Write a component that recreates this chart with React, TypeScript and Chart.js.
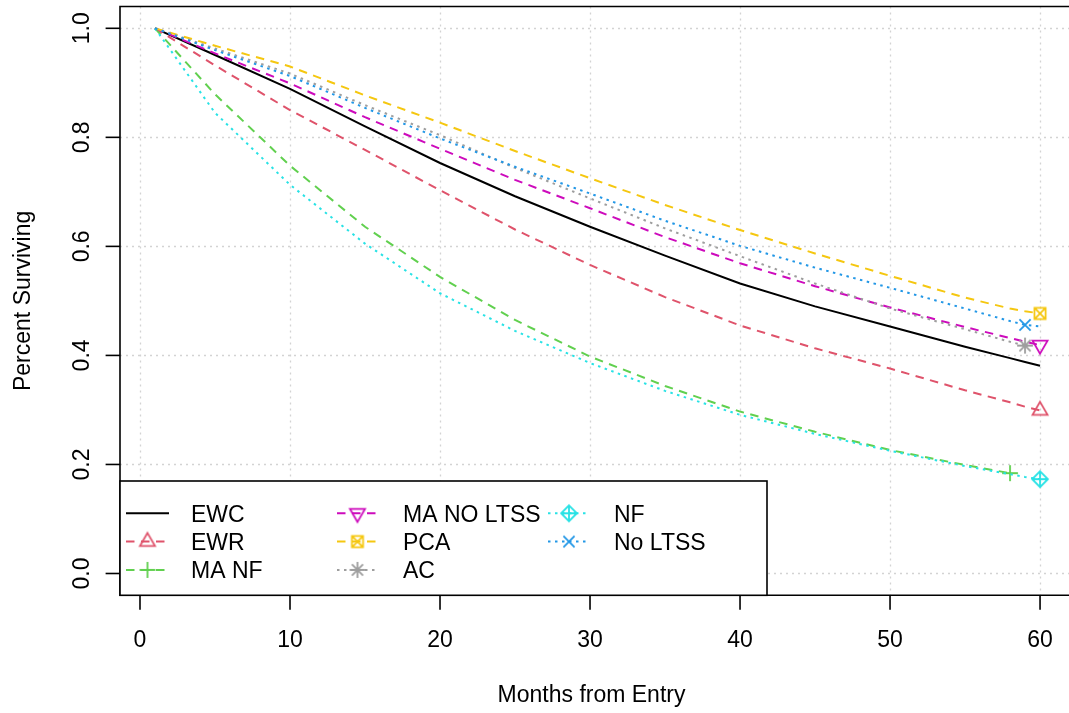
import { useEffect, useRef } from 'react';
import { Chart, registerables } from 'chart.js';

Chart.register(...registerables);

// Survival estimates by month since entry
const months = [1, 5, 10, 15, 20, 25, 30, 35, 40, 45, 50, 55, 58, 59, 60];

const ewc = [1.0, 0.951, 0.889, 0.82, 0.753, 0.692, 0.636, 0.583, 0.532, 0.49, 0.453, 0.416, 0.395, 0.388, 0.381];
const ewr = [1.0, 0.932, 0.85, 0.777, 0.703, 0.631, 0.566, 0.507, 0.455, 0.413, 0.376, 0.336, 0.314, 0.306, 0.299];
const maNf = [1.0, 0.879, 0.748, 0.636, 0.544, 0.465, 0.398, 0.344, 0.297, 0.26, 0.2265, 0.199, 0.184, null, null];
const maNoLtss = [1.0, 0.954, 0.899, 0.837, 0.779, 0.722, 0.67, 0.617, 0.569, 0.527, 0.488, 0.452, 0.432, 0.425, 0.419];
const pca = [1.0, 0.968, 0.93, 0.877, 0.827, 0.775, 0.725, 0.676, 0.63, 0.587, 0.546, 0.506, 0.486, 0.481, 0.477];
const ac = [1.0, 0.963, 0.917, 0.859, 0.804, 0.744, 0.688, 0.633, 0.582, 0.532, 0.486, 0.448, 0.425, 0.418, null];
const nf = [1.0, 0.845, 0.713, 0.605, 0.514, 0.445, 0.386, 0.335, 0.291, 0.256, 0.225, 0.197, 0.182, 0.177, 0.173];
const noLtss = [1.0, 0.96, 0.9125, 0.854, 0.798, 0.746, 0.697, 0.647, 0.601, 0.561, 0.524, 0.486, 0.463, 0.456, 0.453];

const seriesNames = ['EWC', 'EWR', 'MA NF', 'MA NO LTSS', 'PCA', 'AC', 'NF', 'No LTSS'];
const seriesValues = [ewc, ewr, maNf, maNoLtss, pca, ac, nf, noLtss];
// month at which each curve carries its end symbol (null: no symbol)
const markerMonths: (number | null)[] = [null, 60, 58, 60, 60, 59, 60, 59];

const xTicks = [0, 10, 20, 30, 40, 50, 60];
const yTicks = [0, 0.2, 0.4, 0.6, 0.8, 1.0];
const yTickLabels = ['0.0', '0.2', '0.4', '0.6', '0.8', '1.0'];

const xTitle = 'Months from Entry';
const yTitle = 'Percent Surviving';

// styling
const colors = ['#000000', '#DF536B', '#61D04F', '#CD0BBC', '#F5C710', '#9E9E9E', '#28E2E5', '#2297E6'];
const DASHED = [8.5, 6.5];
const DOTTED = [2.5, 4.5];
const dashes = [[], DASHED, DASHED, DASHED, DASHED, DOTTED, DOTTED, DOTTED];
const symbols = ['none', 'triUp', 'plus', 'triDown', 'boxX', 'aster', 'diamondPlus', 'cross'];

const FONT = '23px "Liberation Sans", Arial, Helvetica, sans-serif';
const LINE_W = 2;

function makeSymbol(kind: string, color: string): HTMLCanvasElement {
  const c = document.createElement('canvas');
  c.width = 24;
  c.height = 24;
  const g = c.getContext('2d')!;
  g.translate(12, 12);
  g.strokeStyle = color;
  g.lineWidth = 1.8;
  const s = 5.57;
  const r2 = s * Math.SQRT2;
  g.beginPath();
  if (kind === 'triUp' || kind === 'triDown') {
    const r = 1.5551 * s;
    const xc = 1.3468 * s;
    const yc = 0.7776 * s;
    const f = kind === 'triUp' ? 1 : -1;
    g.moveTo(0, -r * f);
    g.lineTo(xc, yc * f);
    g.lineTo(-xc, yc * f);
    g.closePath();
  } else if (kind === 'plus') {
    g.moveTo(-r2, 0); g.lineTo(r2, 0);
    g.moveTo(0, -r2); g.lineTo(0, r2);
  } else if (kind === 'cross') {
    g.moveTo(-s, -s); g.lineTo(s, s);
    g.moveTo(-s, s); g.lineTo(s, -s);
  } else if (kind === 'boxX') {
    g.rect(-s, -s, 2 * s, 2 * s);
    g.moveTo(-s, -s); g.lineTo(s, s);
    g.moveTo(-s, s); g.lineTo(s, -s);
  } else if (kind === 'aster') {
    g.moveTo(-s, -s); g.lineTo(s, s);
    g.moveTo(-s, s); g.lineTo(s, -s);
    g.moveTo(-r2, 0); g.lineTo(r2, 0);
    g.moveTo(0, -r2); g.lineTo(0, r2);
  } else if (kind === 'diamondPlus') {
    g.moveTo(0, -r2); g.lineTo(r2, 0); g.lineTo(0, r2); g.lineTo(-r2, 0); g.closePath();
    g.moveTo(-r2, 0); g.lineTo(r2, 0);
    g.moveTo(0, -r2); g.lineTo(0, r2);
  }
  g.stroke();
  return c;
}

const LEGEND_BOX = { left: 120, top: 481, right: 767 };
const legendCols = [
  { x0: 126, x1: 169, tx: 191 },
  { x0: 337, x1: 378, tx: 403 },
  { x0: 548, x1: 590, tx: 614 },
];
const legendRows = [513.3, 541.6, 569.9];

export default function App() {
  const canvasRef = useRef<HTMLCanvasElement | null>(null);

  useEffect(() => {
    const canvas = canvasRef.current;
    if (!canvas) return;

    const symbolImgs = symbols.map((k, i) => (k === 'none' ? null : makeSymbol(k, colors[i])));

    const datasets = seriesNames.map((name, i) => {
      const vals = seriesValues[i];
      const mIdx = markerMonths[i] === null ? -1 : months.indexOf(markerMonths[i] as number);
      const img = symbolImgs[i];
      return {
        label: name,
        data: months.map((m, j) => ({ x: m, y: vals[j] })).filter((p) => p.y !== null),
        borderColor: colors[i],
        backgroundColor: colors[i],
        borderWidth: LINE_W,
        borderDash: dashes[i],
        borderCapStyle: 'butt' as const,
        tension: 0,
        fill: false,
        order: seriesNames.length - i,
        pointRadius: (ctx: any) => (img && ctx.dataIndex === mIdx ? 9 : 0),
        pointHoverRadius: 0,
        pointStyle: (ctx: any) => (img && ctx.dataIndex === mIdx ? img : 'circle'),
      };
    });

    const rPlot = {
      id: 'rPlot',
      beforeDatasetsDraw(chart: any) {
        const { ctx, chartArea: a, scales } = chart;
        ctx.save();
        ctx.strokeStyle = '#D3D3D3';
        ctx.lineWidth = 1.3;
        ctx.setLineDash([2, 4]);
        for (const t of xTicks) {
          const x = Math.round(scales.x.getPixelForValue(t)) + 0.5;
          ctx.beginPath();
          ctx.moveTo(x, a.top);
          ctx.lineTo(x, a.bottom);
          ctx.stroke();
        }
        for (const t of yTicks) {
          const y = Math.round(scales.y.getPixelForValue(t)) + 0.5;
          ctx.beginPath();
          ctx.moveTo(a.left, y);
          ctx.lineTo(a.right, y);
          ctx.stroke();
        }
        ctx.restore();
      },
      afterDatasetsDraw(chart: any) {
        const { ctx, chartArea: a, scales } = chart;
        ctx.save();
        ctx.setLineDash([]);
        ctx.strokeStyle = '#000';
        ctx.fillStyle = '#000';
        ctx.lineWidth = 1.6;

        // plot frame: left, top and bottom sides (the right side lies past the canvas edge)
        ctx.beginPath();
        ctx.moveTo(a.right + 2, a.top);
        ctx.lineTo(a.left, a.top);
        ctx.lineTo(a.left, a.bottom);
        ctx.lineTo(a.right + 2, a.bottom);
        ctx.stroke();

        // x axis ticks and labels
        ctx.font = FONT;
        ctx.textAlign = 'center';
        ctx.textBaseline = 'alphabetic';
        for (const t of xTicks) {
          const x = scales.x.getPixelForValue(t);
          ctx.beginPath();
          ctx.moveTo(x, a.bottom);
          ctx.lineTo(x, a.bottom + 14.4);
          ctx.stroke();
          ctx.fillText(String(t), x, 647);
        }
        ctx.fillText(xTitle, scales.x.getPixelForValue(30.1), 702);

        // y axis ticks and rotated labels
        yTicks.forEach((t, i) => {
          const y = scales.y.getPixelForValue(t);
          ctx.beginPath();
          ctx.moveTo(a.left, y);
          ctx.lineTo(a.left - 14.4, y);
          ctx.stroke();
          ctx.save();
          ctx.translate(88.5, y);
          ctx.rotate(-Math.PI / 2);
          ctx.fillText(yTickLabels[i], 0, 0);
          ctx.restore();
        });
        ctx.save();
        ctx.translate(30, (a.top + a.bottom) / 2);
        ctx.rotate(-Math.PI / 2);
        ctx.fillText(yTitle, 0, 0);
        ctx.restore();

        // legend
        ctx.fillStyle = '#fff';
        ctx.fillRect(LEGEND_BOX.left, LEGEND_BOX.top, LEGEND_BOX.right - LEGEND_BOX.left, a.bottom - LEGEND_BOX.top);
        ctx.strokeRect(LEGEND_BOX.left, LEGEND_BOX.top, LEGEND_BOX.right - LEGEND_BOX.left, a.bottom - LEGEND_BOX.top);
        ctx.textAlign = 'left';
        seriesNames.forEach((name, i) => {
          const col = legendCols[Math.floor(i / 3)];
          const y = legendRows[i % 3];
          ctx.save();
          ctx.strokeStyle = colors[i];
          ctx.lineWidth = LINE_W;
          ctx.lineCap = 'butt';
          ctx.setLineDash(dashes[i]);
          ctx.beginPath();
          ctx.moveTo(col.x0, y);
          ctx.lineTo(col.x1, y);
          ctx.stroke();
          ctx.restore();
          const img = symbolImgs[i];
          if (img) {
            const cx = (col.x0 + col.x1) / 2;
            ctx.drawImage(img, cx - img.width / 2, y - img.height / 2);
          }
          ctx.fillStyle = '#000';
          ctx.fillText(name, col.tx, y + 8.2);
        });
        ctx.restore();
      },
    };

    const chart = new Chart(canvas, {
      type: 'line',
      data: { datasets },
      options: {
        animation: false,
        responsive: false,
        devicePixelRatio: 1,
        events: [],
        layout: { autoPadding: false, padding: { left: 120, top: 6.5, right: 0, bottom: 117.7 } },
        scales: {
          x: { type: 'linear', min: -1.333, max: 61.93, display: false },
          y: { type: 'linear', min: -0.04, max: 1.04, display: false },
        },
        plugins: {
          legend: { display: false },
          tooltip: { enabled: false },
        },
      },
      plugins: [rPlot],
    });

    return () => chart.destroy();
  }, []);

  return (
    <div style={{ position: 'fixed', left: 0, top: 0, width: 1069, height: 713, background: '#fff' }}>
      <canvas ref={canvasRef} width={1069} height={713} style={{ width: 1069, height: 713, display: 'block' }} />
    </div>
  );
}
